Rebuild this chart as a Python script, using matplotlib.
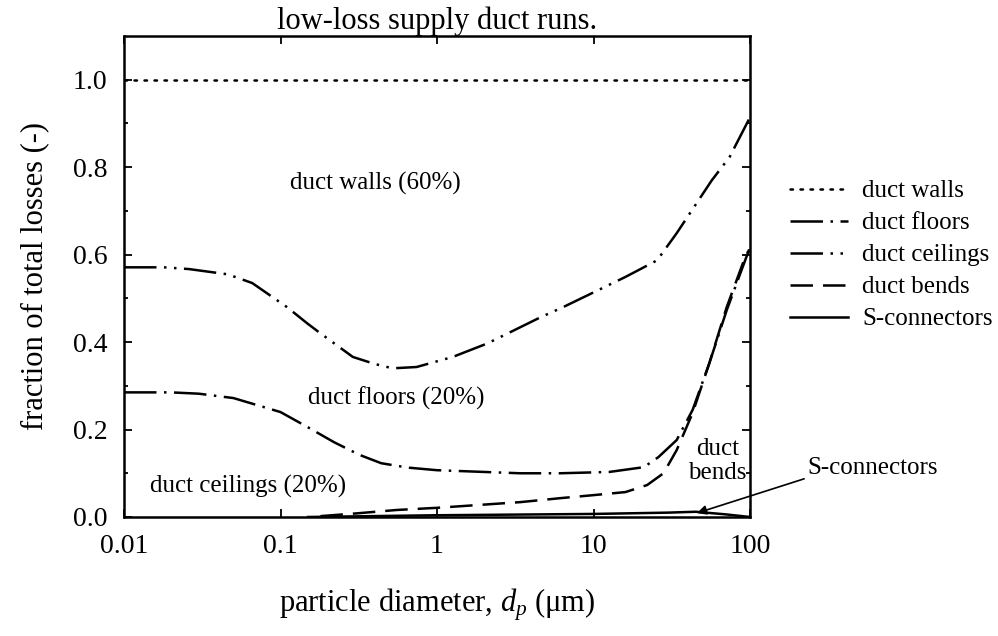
import matplotlib.pyplot as plt
from matplotlib.ticker import FixedLocator, NullLocator

plt.rcParams['font.family'] = ['Liberation Serif', 'DejaVu Serif']
plt.rcParams['mathtext.fontset'] = 'custom'
plt.rcParams['mathtext.rm'] = 'Liberation Serif'
plt.rcParams['mathtext.it'] = 'Liberation Serif:italic'

# fraction of total deposition per duct element, vs particle diameter (um)
walls_dp = [0.01, 100]
walls_frac = [1.0, 1.0]

ceil_dp = [0.01, 0.018, 0.026, 0.046, 0.066, 0.11, 0.148, 0.18, 0.29, 0.4, 0.52,
           0.74, 1.26, 2.1, 4.6, 6.4, 16, 25.5, 34, 57, 74, 100]
ceil_frac = [0.571, 0.571, 0.567, 0.555, 0.535, 0.48, 0.443, 0.42, 0.366, 0.35, 0.34,
             0.343, 0.366, 0.397, 0.457, 0.48, 0.549, 0.587, 0.649, 0.77, 0.823, 0.914]

floor_dp = [0.01, 0.02, 0.03, 0.05, 0.1, 0.15, 0.22, 0.32, 0.44, 0.65, 1.0, 3.4, 6.1,
            12.6, 21, 26, 34, 43, 55, 71, 100]
floor_frac = [0.285, 0.285, 0.282, 0.272, 0.24, 0.205, 0.171, 0.142, 0.123, 0.113, 0.107,
              0.10, 0.10, 0.103, 0.114, 0.137, 0.176, 0.245, 0.352, 0.473, 0.617]

bend_dp = [0.18, 0.3, 0.55, 1.0, 3.4, 6.1, 10, 16, 22, 28, 34, 43, 55, 71, 95, 100]
bend_frac = [0.002, 0.008, 0.016, 0.021, 0.034, 0.043, 0.05, 0.057, 0.073, 0.10,
             0.153, 0.238, 0.352, 0.48, 0.603, 0.61]

sconn_dp = [0.15, 1, 10, 30, 45, 70, 100]
sconn_frac = [0.0, 0.004, 0.007, 0.01, 0.012, 0.006, 0.0]

fig = plt.figure(figsize=(9.98, 6.36), dpi=100)
ax = fig.add_axes([124 / 998, 1 - 517 / 636, 626 / 998, 481 / 636])

lw = 1.8
ax.plot(walls_dp, walls_frac, color='k', lw=lw, linestyle=(0, (1, 3)),
        dash_capstyle='round', label='duct walls')
ax.plot(floor_dp, floor_frac, color='k', lw=lw, linestyle=(0, (13, 3, 1, 3)),
        label='duct floors')
ax.plot(ceil_dp, ceil_frac, color='k', lw=lw, linestyle=(0, (13, 3, 1, 3, 1, 3)),
        label='duct ceilings')
ax.plot(bend_dp, bend_frac, color='k', lw=lw, linestyle=(0, (9, 4)),
        label='duct bends')
ax.plot(sconn_dp, sconn_frac, color='k', lw=lw, label='S-connectors')

ax.set_xscale('log')
ax.set_xlim(0.01, 100)
ax.set_ylim(0, 1.1)
ax.xaxis.set_major_locator(FixedLocator([0.01, 0.1, 1, 10, 100]))
ax.xaxis.set_minor_locator(NullLocator())
ax.set_xticklabels(['0.01', '0.1', '1', '10', '100'])
ax.set_yticks([0.0, 0.2, 0.4, 0.6, 0.8, 1.0])
ax.set_yticks([0.1, 0.3, 0.5, 0.7, 0.9], minor=True)
ax.set_yticklabels(['0.0', '0.2', '0.4', '0.6', '0.8', '1.0'])

ax.tick_params(which='both', direction='in', top=True, right=True, width=1.3)
ax.tick_params(which='major', length=6, labelsize=20, pad=12)
ax.tick_params(which='minor', length=3)
for s in ax.spines.values():
    s.set_linewidth(1.8)

ax.set_title('low-loss supply duct runs.', fontsize=22, pad=3)
ax.set_xlabel(r'particle diameter, $d_p$ ($\mathregular{\mu}$m)', fontsize=22, labelpad=20)
ax.set_ylabel('fraction of total losses (-)', fontsize=22, labelpad=17)

ax.text(0.115, 0.763, 'duct walls (60%)', fontsize=18, va='center')
ax.text(0.15, 0.272, 'duct floors (20%)', fontsize=18, va='center')
ax.text(0.0147, 0.07, 'duct ceilings (20%)', fontsize=18, va='center')
ax.text(62, 0.128, 'duct\nbends', fontsize=18, ha='center', va='center',
        linespacing=1.1)

ax.annotate('S-connectors', xy=(45.8, 0.009), xytext=(231, 0.112),
            fontsize=18, ha='left', va='center', annotation_clip=False,
            arrowprops=dict(arrowstyle='-|>', color='k', lw=1.2,
                            mutation_scale=14, shrinkA=0, shrinkB=0,
                            relpos=(0.0, 0.05)))

ax.legend(loc='upper left', bbox_to_anchor=(790 / 998, 1 - 180 / 636),
          bbox_transform=fig.transFigure, frameon=False, fontsize=18,
          handlelength=2.3, handletextpad=0.6, labelspacing=0.38,
          borderpad=0, borderaxespad=0)

fig.savefig('out.png', dpi=100)
